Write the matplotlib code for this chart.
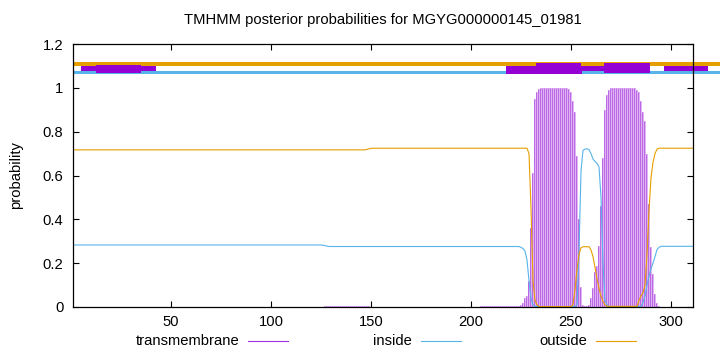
import numpy as np
import matplotlib
matplotlib.use("Agg")
import matplotlib.pyplot as plt
from matplotlib.lines import Line2D
from matplotlib.patches import Rectangle

plt.rcParams['font.family'] = ['Liberation Sans', 'DejaVu Sans']

TITLE = "TMHMM posterior probabilities for MGYG000000145_01981"
SEQ_LEN = 311

# ---- per-residue posterior probabilities (run-length pieces) ----
inside_runs = (
    [0.283] * 125 + [0.282, 0.280, 0.278] + [0.276] * 96 +            # 1..224
    [0.272, 0.267, 0.255, 0.215, 0.12, 0.04, 0.01] +                  # 225..231
    [0.002] * 21 +                                                     # 232..252
    [0.01, 0.25, 0.62, 0.715, 0.72, 0.722, 0.718, 0.70, 0.675,
     0.664, 0.655, 0.64, 0.50, 0.20, 0.03, 0.01] +                     # 253..268
    [0.002] * 17 +                                                     # 269..285
    [0.02, 0.05, 0.10, 0.14, 0.175, 0.20, 0.23, 0.262, 0.272] +        # 286..294
    [0.277] * 17                                                       # 295..311
)
outside_runs = (
    [0.717] * 147 + [0.719, 0.722, 0.724] + [0.7245] * 78 +           # 1..228
    [0.70, 0.45, 0.12, 0.03, 0.01] +                                   # 229..233
    [0.002] * 17 +                                                     # 234..250
    [0.01, 0.08, 0.17, 0.24, 0.27, 0.275, 0.275, 0.275, 0.275,
     0.26, 0.23, 0.18, 0.13, 0.085, 0.05, 0.025, 0.01] +               # 251..267
    [0.003] * 16 +                                                     # 268..283
    [0.03, 0.05, 0.065, 0.10, 0.24, 0.44, 0.59, 0.66, 0.70, 0.72] +    # 284..293
    [0.7245] * 18                                                      # 294..311
)
tm_runs = (
    [0.0] * 126 + [0.006] * 23 + [0.0] * 32 + [0.002] * 11 +          # 1..192
    [0.0] * 12 + [0.004] * 20 +                                        # 193..224
    [0.01, 0.02, 0.04, 0.05, 0.12, 0.36, 0.61, 0.95, 0.983, 0.995] +   # 225..234
    [1.0] * 14 +                                                       # 235..248
    [0.995, 0.983, 0.94, 0.89, 0.69, 0.40, 0.09, 0.01, 0.003, 0.003,
     0.01, 0.04, 0.085, 0.16, 0.185, 0.28, 0.46, 0.68, 0.90, 0.968,
     0.99] +                                                           # 249..269
    [1.0] * 13 +                                                       # 270..282
    [0.99, 0.98, 0.94, 0.89, 0.85, 0.70, 0.47, 0.275, 0.15, 0.06,
     0.02, 0.005] +                                                    # 283..294
    [0.0] * 17                                                         # 295..311
)

residues = np.arange(1, SEQ_LEN + 1)
inside = np.array(inside_runs)
outside = np.array(outside_runs)
tm = np.array(tm_runs)

# top-strip topology segments (start, end)
tm_narrow = [(4.85, 42.65), (255.7, 266.5), (296.5, 318.5)]
tm_mid = [(217.3, 255.7)]
tm_tall = [(12.65, 34.85), (232.3, 254.8), (266.5, 289.5)]

yticks = [0, 0.2, 0.4, 0.6, 0.8, 1, 1.2]
ytick_labels = ["0", "0.2", "0.4", "0.6", "0.8", "1", "1.2"]
xticks = [50, 100, 150, 200, 250, 300]

C_TM = "#9400D3"
C_IN = "#56B4E9"
C_OUT = "#E69F00"
FS = 10.6

fig = plt.figure(figsize=(7.2, 3.52), dpi=100)
ax = fig.add_axes([73 / 720, 1 - 307 / 352, 620 / 720, 263 / 352])
ax.set_xlim(1, 311)
ax.set_ylim(0, 1.2)

# TM impulses: light fill with darker vertical stripes
ax.bar(residues, tm, width=1.0, color="#e3b6f4", edgecolor="none", zorder=2)
ax.vlines(residues - 0.5, 0, tm, color="#bb6ae6", lw=0.75, zorder=2)
ax.plot(residues, inside, color=C_IN, lw=0.8, zorder=3)
ax.plot(residues, outside, color=C_OUT, lw=0.8, zorder=3)

# top strip
ax.plot([1, 345], [1.111, 1.111], color=C_OUT, lw=2.9, solid_capstyle="butt",
        clip_on=False, zorder=4)
ax.plot([1, 345], [1.072, 1.072], color=C_IN, lw=2.2, solid_capstyle="butt",
        clip_on=False, zorder=4)
for s, e in tm_narrow:
    ax.add_patch(Rectangle((s, 1.078), e - s, 0.022, color=C_TM, lw=0,
                           clip_on=False, zorder=5))
for s, e in tm_mid:
    ax.add_patch(Rectangle((s, 1.065), e - s, 0.035, color=C_TM, lw=0,
                           clip_on=False, zorder=5))
for i, (s, e) in enumerate(tm_tall):
    top = 1.105 if i == 0 else 1.113
    ax.add_patch(Rectangle((s, 1.066), e - s, top - 1.066, color=C_TM, lw=0,
                           clip_on=False, zorder=5))

ax.set_xticks(xticks)
ax.set_xticklabels([str(t) for t in xticks])
ax.set_yticks(yticks)
ax.set_yticklabels(ytick_labels)
ax.tick_params(direction="in", length=4, width=0.8, top=True, right=True,
               labelsize=FS, colors="black")
ax.tick_params(axis="y", pad=7)
ax.tick_params(axis="x", pad=6)
for sp in ax.spines.values():
    sp.set_linewidth(0.9)
    sp.set_zorder(6)

fig.text(383 / 720, 1 - 20 / 352, TITLE, ha="center", va="center", fontsize=FS)
fig.text(16 / 720, 1 - 175 / 352, "probability", rotation=90, ha="center",
         va="center", fontsize=FS)

# legend row beneath the axes
legend_items = [("transmembrane", "#a030e0", 240, 248, 288),
                ("inside", C_IN, 412, 421, 461),
                ("outside", C_OUT, 587, 596, 636)]
ly = 1 - 341 / 352
for label, col, tx, l0, l1 in legend_items:
    fig.text(tx / 720, ly, label, ha="right", va="center", fontsize=FS)
    fig.add_artist(Line2D([l0 / 720, l1 / 720], [ly, ly], color=col, lw=0.8,
                          transform=fig.transFigure))

fig.savefig("out.png", dpi=100)
